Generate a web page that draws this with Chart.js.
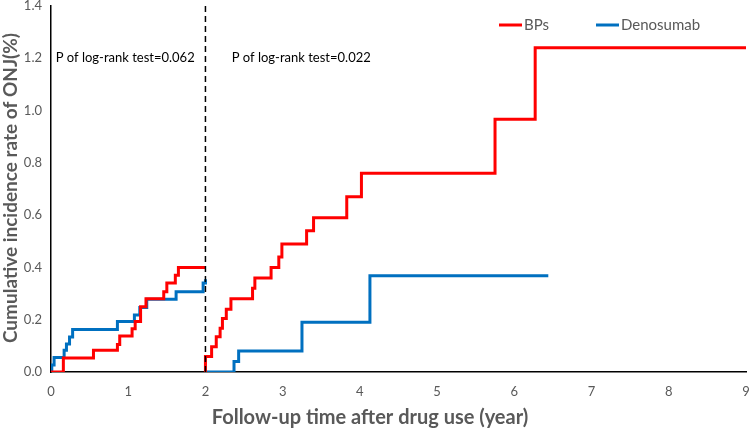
<!DOCTYPE html>
<html>
<head>
<meta charset="utf-8">
<script src="https://cdn.jsdelivr.net/npm/chart.js@4/dist/chart.umd.min.js"></script>
<style>
  html, body { margin: 0; padding: 0; background: #fff; }
  #wrap { width: 749px; height: 431px; }
</style>
</head>
<body>
<div id="wrap"><canvas id="kmChart"></canvas></div>
<script>
// follow-up time (years) and cumulative incidence (%)
const bpTimeEarly = [0, 0.13, 0.16, 0.55, 0.86, 0.89, 1.05, 1.09, 1.16, 1.23, 1.46, 1.50, 1.61, 1.65, 2.0];
const bpRateEarly = [0, 0, 0.054, 0.083, 0.105, 0.138, 0.165, 0.193, 0.25, 0.28, 0.307, 0.34, 0.37, 0.40, 0.40];
const bpTimeLate = [2.0, 2.0, 2.08, 2.14, 2.19, 2.22, 2.27, 2.33, 2.61, 2.64, 2.85, 2.95, 2.99, 3.31, 3.40, 3.83, 4.02, 5.75, 6.27, 9.0];
const bpRateLate = [0, 0.059, 0.097, 0.135, 0.167, 0.205, 0.24, 0.28, 0.32, 0.36, 0.40, 0.44, 0.49, 0.54, 0.59, 0.67, 0.76, 0.967, 1.24, 1.24];

const denoTimeEarly = [0, 0.01, 0.04, 0.17, 0.2, 0.24, 0.28, 0.86, 1.08, 1.15, 1.24, 1.62, 1.97, 2.0];
const denoRateEarly = [0, 0.027, 0.055, 0.083, 0.107, 0.134, 0.163, 0.193, 0.218, 0.247, 0.278, 0.307, 0.34, 0.355];
const denoTimeLate = [2.0, 2.37, 2.43, 3.25, 4.13, 6.44];
const denoRateLate = [0, 0.04, 0.08, 0.19, 0.368, 0.368];

const seriesNames = ["BPs", "Denosumab"];
const pValues = ["P of log-rank test=0.062", "P of log-rank test=0.022"];
const xTitle = "Follow-up time after drug use (year)";
const yTitle = "Cumulative incidence rate of ONJ(%)";
const landmark = 2;

function toPoints(t1, r1, t2, r2) {
  const pts = t1.map((t, i) => ({ x: t, y: r1[i] }));
  pts.push({ x: landmark, y: null }); // break the curve at the landmark
  return pts.concat(t2.map((t, i) => ({ x: t, y: r2[i] })));
}

const red = "#ff0000";
const blue = "#0070c0";
const grey = "#595959";
const fontFamily = "Lato, 'Open Sans', sans-serif";

const extras = {
  id: "extras",
  afterDatasetsDraw(chart) {
    const { ctx, chartArea, scales } = chart;
    const x = scales.x, y = scales.y;
    ctx.save();
    // landmark dashed line
    ctx.strokeStyle = "#000";
    ctx.lineWidth = 1.5;
    ctx.setLineDash([6, 4]);
    ctx.beginPath();
    ctx.moveTo(x.getPixelForValue(landmark), chartArea.top);
    ctx.lineTo(x.getPixelForValue(landmark), chartArea.bottom);
    ctx.stroke();
    ctx.setLineDash([]);

    // p-values
    ctx.font = "13px " + fontFamily;
    ctx.fillStyle = "#000";
    ctx.textBaseline = "middle";
    ctx.fillText(pValues[0], x.getPixelForValue(0.06), y.getPixelForValue(1.2));
    ctx.fillText(pValues[1], x.getPixelForValue(2.34), y.getPixelForValue(1.2));

    // legend
    const colors = [red, blue];
    const lx = [499, 596];
    ctx.font = "15px " + fontFamily;
    ctx.fillStyle = grey;
    ctx.lineWidth = 3;
    seriesNames.forEach((n, i) => {
      ctx.strokeStyle = colors[i];
      ctx.beginPath();
      ctx.moveTo(lx[i], 25);
      ctx.lineTo(lx[i] + 23, 25);
      ctx.stroke();
      ctx.fillText(n, lx[i] + 25, 25);
    });

    // axis titles
    ctx.font = "bold 20px " + fontFamily;
    ctx.textAlign = "center";
    ctx.fillText(xTitle, 370, 418);
    ctx.translate(11, 188);
    ctx.rotate(-Math.PI / 2);
    ctx.font = "bold 19px " + fontFamily;
    ctx.fillText(yTitle, 0, 0);
    ctx.restore();
  }
};

new Chart(document.getElementById("kmChart"), {
  type: "line",
  data: {
    datasets: [
      {
        label: seriesNames[0],
        data: toPoints(bpTimeEarly, bpRateEarly, bpTimeLate, bpRateLate),
        borderColor: red,
        borderWidth: 3,
        stepped: true,
        pointRadius: 0,
        spanGaps: false,
      },
      {
        label: seriesNames[1],
        data: toPoints(denoTimeEarly, denoRateEarly, denoTimeLate, denoRateLate),
        borderColor: blue,
        borderWidth: 3,
        stepped: true,
        pointRadius: 0,
        spanGaps: false,
      },
    ],
  },
  options: {
    responsive: true,
    maintainAspectRatio: false,
    animation: false,
    layout: { padding: { top: 6, right: 3, left: 0, bottom: 0 } },
    plugins: { legend: { display: false }, tooltip: { enabled: false } },
    scales: {
      x: {
        type: "linear",
        min: 0,
        max: 9,
        grid: { display: false, drawTicks: false },
        border: { color: "#000", width: 1.5 },
        ticks: { stepSize: 1, color: grey, font: { family: fontFamily, size: 13 }, padding: 12 },
        afterFit: (s) => { s.height = 59; s.paddingRight = 0; s.paddingLeft = 0; },
      },
      y: {
        min: 0,
        max: 1.4,
        grid: { display: false, drawTicks: false },
        border: { color: "#000", width: 1.5 },
        ticks: {
          stepSize: 0.2,
          color: grey,
          font: { family: fontFamily, size: 13 },
          padding: 9,
          callback: (v) => v.toFixed(1),
        },
        afterFit: (s) => { s.width = 51; s.paddingTop = 0; s.paddingBottom = 0; },
      },
    },
  },
  plugins: [extras],
});
</script>
</body>
</html>
